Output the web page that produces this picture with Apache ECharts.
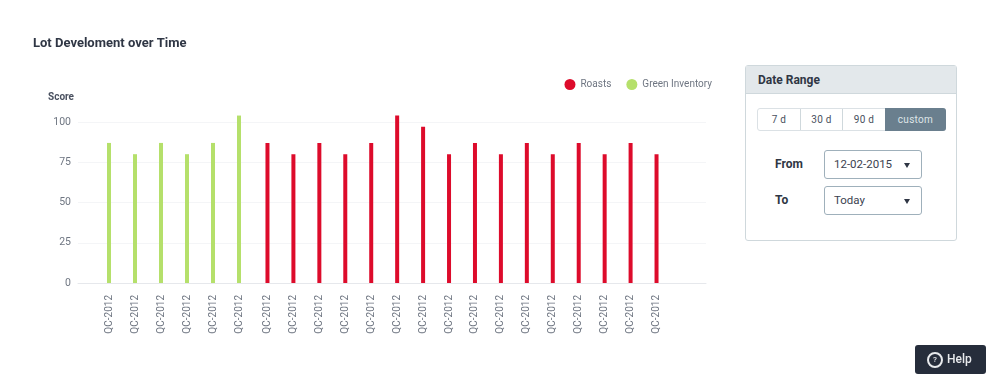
<!DOCTYPE html>
<html>
<head>
<meta charset="utf-8">
<title>Lot Develoment over Time</title>
<script src="https://cdn.jsdelivr.net/npm/echarts@6/dist/echarts.min.js"></script>
<style>
  html, body { margin: 0; padding: 0; background: #fff; font-family: Roboto, sans-serif; }
  #chart { position: absolute; left: 0; top: 0; width: 1003px; height: 385px; }
  .panel { position: absolute; left: 745px; top: 65px; width: 210px; height: 174px; border: 1px solid #cfd8dc; border-radius: 3px; background: #fff; }
  .panel .head { height: 27px; line-height: 28px; padding-left: 12px; background: #e3e8eb; border-bottom: 1px solid #cfd8dc; font-size: 12px; font-weight: 700; color: #2f3644; }
  .range { position: absolute; left: 11px; top: 42px; width: 189px; height: 23px; display: flex; border: 1px solid #dbe1e5; border-radius: 3px; box-sizing: border-box; font-size: 10px; color: #4a5160; }
  .range div { text-align: center; line-height: 21px; border-right: 1px solid #cfd8dc; box-sizing: border-box; letter-spacing: 0.3px; }
  .range .w1 { width: 43px; } .range .w2 { width: 42px; }
  .range .on { flex: 1; background: #6a7f8e; color: #dfe5e8; border: 0; margin: -1px; border-radius: 0 3px 3px 0; line-height: 23px; }
  .lbl { position: absolute; left: 29px; font-size: 12px; font-weight: 700; color: #2f3644; }
  .sel { position: absolute; left: 78px; width: 98px; height: 29px; box-sizing: border-box; border: 1px solid #9fb0bb; border-radius: 3px; font-size: 11.5px; line-height: 27px; padding-left: 9px; color: #3b4250; }
  .sel:after { content: ""; position: absolute; right: 11px; top: 12px; border-left: 3.5px solid transparent; border-right: 3.5px solid transparent; border-top: 5px solid #2f3644; }
  .help { position: absolute; left: 915px; top: 345px; width: 71px; height: 29px; background: #262d3b; border-radius: 3px; color: #e8eaed; font-size: 12px; font-weight: 500; line-height: 29px; }
  .help span { position: absolute; left: 32px; }
  .help i { position: absolute; left: 12px; top: 7px; width: 12px; height: 12px; border: 2px solid #e8eaed; border-radius: 50%; font-size: 8px; font-style: normal; line-height: 12px; text-align: center; }
</style>
</head>
<body>
<div id="chart"></div>
<div class="panel">
  <div class="head">Date Range</div>
  <div class="range">
    <div class="w1">7 d</div><div class="w2">30 d</div><div class="w1">90 d</div><div class="on">custom</div>
  </div>
  <div class="lbl" style="top:91px">From</div>
  <div class="sel" style="top:84px">12-02-2015</div>
  <div class="lbl" style="top:127px">To</div>
  <div class="sel" style="top:120px">Today</div>
</div>
<div class="help"><i>?</i><span>Help</span></div>
<script>
// 图表数据
const greenCategories = ["QC-2012", "QC-2012", "QC-2012", "QC-2012", "QC-2012", "QC-2012"];
const greenValues = [87, 80, 87, 80, 87, 104];
const roastCategories = ["QC-2012", "QC-2012", "QC-2012", "QC-2012", "QC-2012", "QC-2012", "QC-2012", "QC-2012",
  "QC-2012", "QC-2012", "QC-2012", "QC-2012", "QC-2012", "QC-2012", "QC-2012", "QC-2012"];
const roastValues = [87, 80, 87, 80, 87, 104, 97, 80, 87, 80, 87, 80, 87, 80, 87, 80];
const yTicks = { min: 0, max: 100, interval: 25 };

const chart = echarts.init(document.getElementById("chart"));
const textColor = "#6f7682";

// 两组柱子之间的间距略大，所以各用一个 grid，第一个 grid 只画纵轴和分割线
// 柱子的 grid 比纵轴高一点（max 110），比例保持一致，最高的柱子才能超过 100 的线
const barMax = 110;
const barGridHeight = (161 * barMax) / yTicks.max;
const barGridTop = 283 - barGridHeight;
const xLabel = { color: textColor, fontSize: 10, rotate: 90, margin: 12, interval: 0, fontFamily: "Roboto" };
const hiddenY = { type: "value", min: 0, max: barMax, show: false };

chart.setOption({
  animation: false,
  textStyle: { fontFamily: "Roboto" },
  title: {
    text: "Lot Develoment over Time",
    left: 28,
    top: 32,
    textStyle: { color: "#2f3644", fontSize: 13, fontWeight: "bold", fontFamily: "Roboto" },
  },
  legend: {
    data: ["Roasts", "Green Inventory"],
    right: 286,
    top: 74,
    icon: "circle",
    itemWidth: 11,
    itemHeight: 11,
    itemGap: 15,
    textStyle: { color: textColor, fontSize: 10, fontFamily: "Roboto" },
  },
  grid: [
    { left: 78, right: 297, top: 122, height: 161 },
    { left: 96, width: 156, top: barGridTop, height: barGridHeight },
    { left: 254.5, width: 415, top: barGridTop, height: barGridHeight },
  ],
  xAxis: [
    { type: "category", gridIndex: 0, data: [], axisTick: { show: false }, axisLabel: { show: false },
      axisLine: { lineStyle: { color: "#e6e8ec" } } },
    { type: "category", gridIndex: 1, data: greenCategories, axisLine: { show: false }, axisTick: { show: false }, axisLabel: xLabel },
    { type: "category", gridIndex: 2, data: roastCategories, axisLine: { show: false }, axisTick: { show: false }, axisLabel: xLabel },
  ],
  yAxis: [
    {
      type: "value",
      gridIndex: 0,
      min: yTicks.min,
      max: yTicks.max,
      interval: yTicks.interval,
      name: "Score",
      nameLocation: "end",
      nameGap: 20,
      nameTextStyle: { color: "#4a5160", fontSize: 10, fontWeight: "bold", align: "right", padding: [0, 4, 0, 0] },
      axisLine: { show: false },
      axisTick: { show: false },
      axisLabel: { color: textColor, fontSize: 10.5, margin: 7 },
      splitLine: { show: true, lineStyle: { color: "#f4f5f7" } },
    },
    { ...hiddenY, gridIndex: 1 },
    { ...hiddenY, gridIndex: 2 },
  ],
  series: [
    {
      name: "Roasts",
      type: "bar",
      xAxisIndex: 2,
      yAxisIndex: 2,
      data: roastValues,
      barWidth: 4,
      itemStyle: { color: "#dd0b2b" },
    },
    {
      name: "Green Inventory",
      type: "bar",
      xAxisIndex: 1,
      yAxisIndex: 1,
      data: greenValues,
      barWidth: 4,
      itemStyle: { color: "#b5e06b" },
    },
  ],
});
</script>
</body>
</html>
